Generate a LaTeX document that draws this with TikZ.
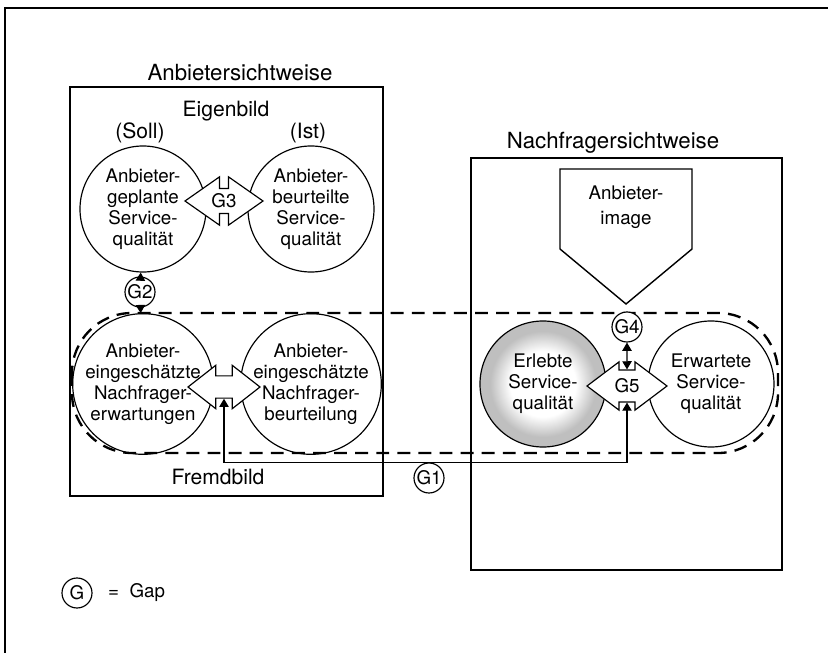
\documentclass[tikz,border=0pt]{standalone}
\usepackage{fontspec}
\setmainfont{TeX Gyre Heros}
\usetikzlibrary{shapes.arrows,arrows.meta,positioning}

\pgfdeclareradialshading{erlebtring}{\pgfpoint{0bp}{0bp}}{color(0bp)=(white); color(13bp)=(white); color(21bp)=(black!25); color(50bp)=(black!25)}

\begin{document}
\begin{tikzpicture}[x=0.03cm, y=-0.03cm,
    linie/.style={line width=1.2pt},
    kreis/.style={circle, draw, line width=1pt, minimum size=3.78cm, inner sep=0pt, align=center, font=\fontsize{16}{18}\selectfont},
    gapkreis/.style={circle, draw, line width=1pt, minimum size=0.9cm, inner sep=0pt, fill=white, font=\fontsize{16}{18}\selectfont},
    pfeil/.style={double arrow, draw, fill=white, line width=1pt, inner xsep=2pt, font=\fontsize{16}{18}\selectfont},
    pfeilspitze/.style={-{Triangle[length=7pt,width=8pt]}, line width=1pt},
    titel/.style={font=\fontsize{19}{22}\selectfont},
    untertitel/.style={font=\fontsize{18}{21}\selectfont}]

    \useasboundingbox (0,0) rectangle (828,653);

    % Rahmen
    \draw[linie] (5,653) -- (5,8) -- (828,8);

    % Anbietersichtweise
    \node[titel] (anbieter) at (240,73) {Anbietersichtweise};
    \draw[linie] (70,87) rectangle (383,496);
    \node[untertitel] (eigenbild) at (226,111) {Eigenbild};
    \node[untertitel] (soll) at (140,133) {(Soll)};
    \node[untertitel] (ist) at (308,133) {(Ist)};
    \node[untertitel] (fremdbild) at (218,477) {Fremdbild};

    % Nachfragersichtweise
    \node[titel] (nachfrager) at (613,143) {Nachfragersichtweise};
    \draw[linie] (471,158) rectangle (782,570);
    \draw[linie, fill=white] (560,169) -- (692,169) -- (692,249) -- (626,304) -- (560,249) -- cycle;
    \node[align=center, font=\fontsize{16}{21}\selectfont] (image) at (626,207) {Anbieter-\\image};

    % Fremdbild-Bereich
    \draw[line width=2pt, dash pattern=on 11pt off 7pt, rounded corners=1.8cm] (72,313) rectangle (778,453);

    % Kreise
    \node[kreis] (geplant) at (143,209) {Anbieter-\\geplante\\Service-\\qualität};
    \node[kreis] (beurteilt) at (311,209) {Anbieter-\\beurteilte\\Service-\\qualität};
    \node[kreis] (erwartungen) at (143,384) {Anbieter-\\eingeschätzte\\Nachfrager-\\erwartungen};
    \node[kreis] (beurteilung) at (311,384) {Anbieter-\\eingeschätzte\\Nachfrager-\\beurteilung};
    \node[kreis, shade, shading=erlebtring] (erlebt) at (543,384) {Erlebte\\Service-\\qualität};
    \node[kreis] (erwartet) at (711,384) {Erwartete\\Service-\\qualität};

    % Doppelpfeile
    \node[pfeil, inner ysep=4pt, minimum height=2.34cm, double arrow head extend=10pt, double arrow tip angle=70] (gdrei) at (224,201) {G3};
    \node[pfeil, inner ysep=9pt, minimum height=2.16cm, double arrow head extend=9pt, double arrow tip angle=76] (fremdpfeil) at (224,387) {};
    \node[pfeil, inner ysep=7pt, minimum height=2.4cm, double arrow head extend=7pt, double arrow tip angle=74] (gfuenf) at (627,386) {G5};

    % Gaps
    \node[gapkreis] (gzwei) at (140,292) {G2};
    \draw[pfeilspitze] (gzwei) -- (geplant);
    \draw[pfeilspitze] (gzwei) -- (erwartungen);

    \node[gapkreis] (gvier) at (627,327) {G4};
    \draw[{Triangle[length=7pt,width=8pt]}-{Triangle[length=7pt,width=8pt]}, line width=1pt] (gvier.south) -- (gfuenf.north);

    \node[gapkreis] (geins) at (429,478) {G1};
    \draw[pfeilspitze] (geins.north) -| (fremdpfeil.south);
    \draw[pfeilspitze] (geins.north) -| (gfuenf.south);

    % Legende
    \node[gapkreis] (legende) at (77,593) {G};
    \node[right=13pt of legende, inner sep=0pt, font=\fontsize{16}{18}\selectfont] (gap) {=\hspace{9pt}Gap};

\end{tikzpicture}
\end{document}
